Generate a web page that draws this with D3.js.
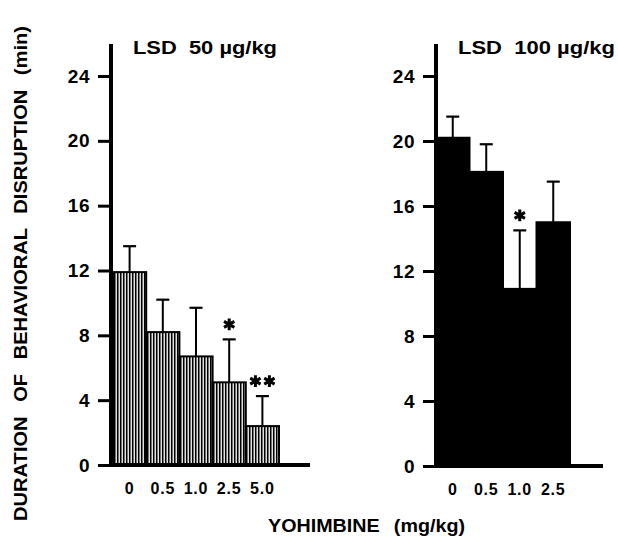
<!DOCTYPE html>
<html>
<head>
<meta charset="utf-8">
<script src="https://cdn.jsdelivr.net/npm/d3@7"></script>
<style>
  body { margin: 0; background: #fff; }
  text { font-family: "Liberation Sans", Arial, sans-serif; font-weight: bold; fill: #000; }
</style>
</head>
<body>
<div id="chart"></div>
<script>
// values
const dosesLow = ["0", "0.5", "1.0", "2.5", "5.0"];
const meanLow = [11.9, 8.2, 6.7, 5.1, 2.4];
const semLow = [1.6, 2.0, 3.0, 2.65, 1.85];
const sigLow = ["", "", "", "*", "**"];

const dosesHigh = ["0", "0.5", "1.0", "2.5"];
const meanHigh = [20.2, 18.1, 10.9, 15.0];
const semHigh = [1.3, 1.7, 3.6, 2.5];
const sigHigh = ["", "", "*", ""];

const yTicks = [0, 4, 8, 12, 16, 20, 24];
const titles = ["LSD\u00a0\u00a050 \u00b5g/kg", "LSD\u00a0\u00a0100 \u00b5g/kg"];

const width = 618, height = 539;

const svg = d3.select("#chart").append("svg")
    .attr("width", width)
    .attr("height", height);

// vertical hatching used by the left panel bars
const defs = svg.append("defs");
const pat = defs.append("pattern")
    .attr("id", "hatch")
    .attr("patternUnits", "userSpaceOnUse")
    .attr("width", 3)
    .attr("height", 10);
pat.append("rect").attr("width", 3).attr("height", 10).attr("fill", "#fff");
pat.append("rect").attr("x", 0).attr("width", 1.5).attr("height", 10).attr("fill", "#000");
pat.append("rect").attr("x", 1.5).attr("width", 0.7).attr("height", 10).attr("fill", "#666");

function drawPanel(p) {
    const g = svg.append("g");

    const y = d3.scaleLinear().domain([0, 24]).range([p.base, 76]);
    const x = d3.scaleBand().domain(p.doses).range(p.barRange).padding(0);

    const rows = p.doses.map((d, i) => ({dose: d, mean: p.mean[i], sem: p.sem[i], sig: p.sig[i]}));

    // bars
    g.selectAll("rect.bar").data(rows).enter().append("rect")
        .attr("class", "bar")
        .attr("x", d => x(d.dose))
        .attr("y", d => y(d.mean))
        .attr("width", x.bandwidth())
        .attr("height", d => p.base - y(d.mean))
        .attr("fill", p.fill)
        .attr("stroke", "#000")
        .attr("stroke-width", 2);

    // error bars (upper only)
    const cx = d => x(d.dose) + x.bandwidth() / 2;
    g.selectAll("line.err").data(rows).enter().append("line")
        .attr("x1", cx).attr("x2", cx)
        .attr("y1", d => y(d.mean))
        .attr("y2", d => y(d.mean + d.sem))
        .attr("stroke", "#000").attr("stroke-width", 2);
    g.selectAll("line.cap").data(rows).enter().append("line")
        .attr("x1", d => cx(d) - 6.5).attr("x2", d => cx(d) + 6.5)
        .attr("y1", d => y(d.mean + d.sem))
        .attr("y2", d => y(d.mean + d.sem))
        .attr("stroke", "#000").attr("stroke-width", 2.2);

    // significance stars
    const star = d3.symbol(d3.symbolAsterisk, 100);
    rows.forEach(d => {
        const n = d.sig.length;
        for (let k = 0; k < n; k++) {
            const sx = cx(d) + (k - (n - 1) / 2) * 14;
            g.append("path")
                .attr("d", star())
                .attr("transform", "translate(" + sx + "," + (y(d.mean + d.sem) - 15) + ")")
                .attr("fill", "none")
                .attr("stroke", "#000")
                .attr("stroke-width", 3);
        }
    });

    // axes
    g.append("line")
        .attr("x1", p.axisX).attr("x2", p.axisX)
        .attr("y1", 44).attr("y2", p.base + 2)
        .attr("stroke", "#000").attr("stroke-width", 4);
    g.append("line")
        .attr("x1", p.axisX).attr("x2", p.axisEnd)
        .attr("y1", p.base).attr("y2", p.base)
        .attr("stroke", "#000").attr("stroke-width", 4);

    const yAxis = g.append("g")
        .attr("transform", "translate(" + (p.axisX - 1) + ",0)")
        .call(d3.axisLeft(y).tickValues(yTicks).tickSize(12).tickPadding(8));
    yAxis.select(".domain").remove();
    yAxis.selectAll(".tick line").attr("stroke", "#000").attr("stroke-width", 3);
    yAxis.selectAll(".tick text")
        .style("font-family", "'Liberation Sans', Arial, sans-serif")
        .style("font-weight", "bold")
        .style("font-size", "19px")
        .style("letter-spacing", "0.5px");

    const xAxis = g.append("g")
        .attr("transform", "translate(0," + p.base + ")")
        .call(d3.axisBottom(x).tickSize(0).tickPadding(18));
    xAxis.select(".domain").remove();
    xAxis.selectAll(".tick text")
        .style("font-family", "'Liberation Sans', Arial, sans-serif")
        .style("font-weight", "bold")
        .style("font-size", "16px")
        .style("letter-spacing", "0.8px");

    g.append("text")
        .attr("x", p.titleX)
        .attr("y", 54)
        .attr("textLength", p.titleLen)
        .attr("lengthAdjust", "spacingAndGlyphs")
        .style("font-size", "19px")
        .text(p.title);
}

drawPanel({
    doses: dosesLow, mean: meanLow, sem: semLow, sig: sigLow,
    base: 465, barRange: [113, 279], axisX: 111, axisEnd: 310,
    fill: "url(#hatch)", title: titles[0], titleX: 133, titleLen: 144
});
drawPanel({
    doses: dosesHigh, mean: meanHigh, sem: semHigh, sig: sigHigh,
    base: 466, barRange: [436, 570], axisX: 436, axisEnd: 603,
    fill: "#000", title: titles[1], titleX: 458, titleLen: 157
});

// axis titles
svg.append("text")
    .attr("transform", "translate(27,13) rotate(-90)")
    .attr("x", -508)
    .attr("textLength", 495)
    .attr("lengthAdjust", "spacingAndGlyphs")
    .style("font-size", "18px")
    .style("word-spacing", "8px")
    .text("DURATION OF BEHAVIORAL DISRUPTION (min)");

svg.append("text")
    .attr("x", 268)
    .attr("y", 532)
    .attr("textLength", 197)
    .attr("lengthAdjust", "spacingAndGlyphs")
    .style("font-size", "18px")
    .style("word-spacing", "8px")
    .text("YOHIMBINE (mg/kg)");
</script>
</body>
</html>
